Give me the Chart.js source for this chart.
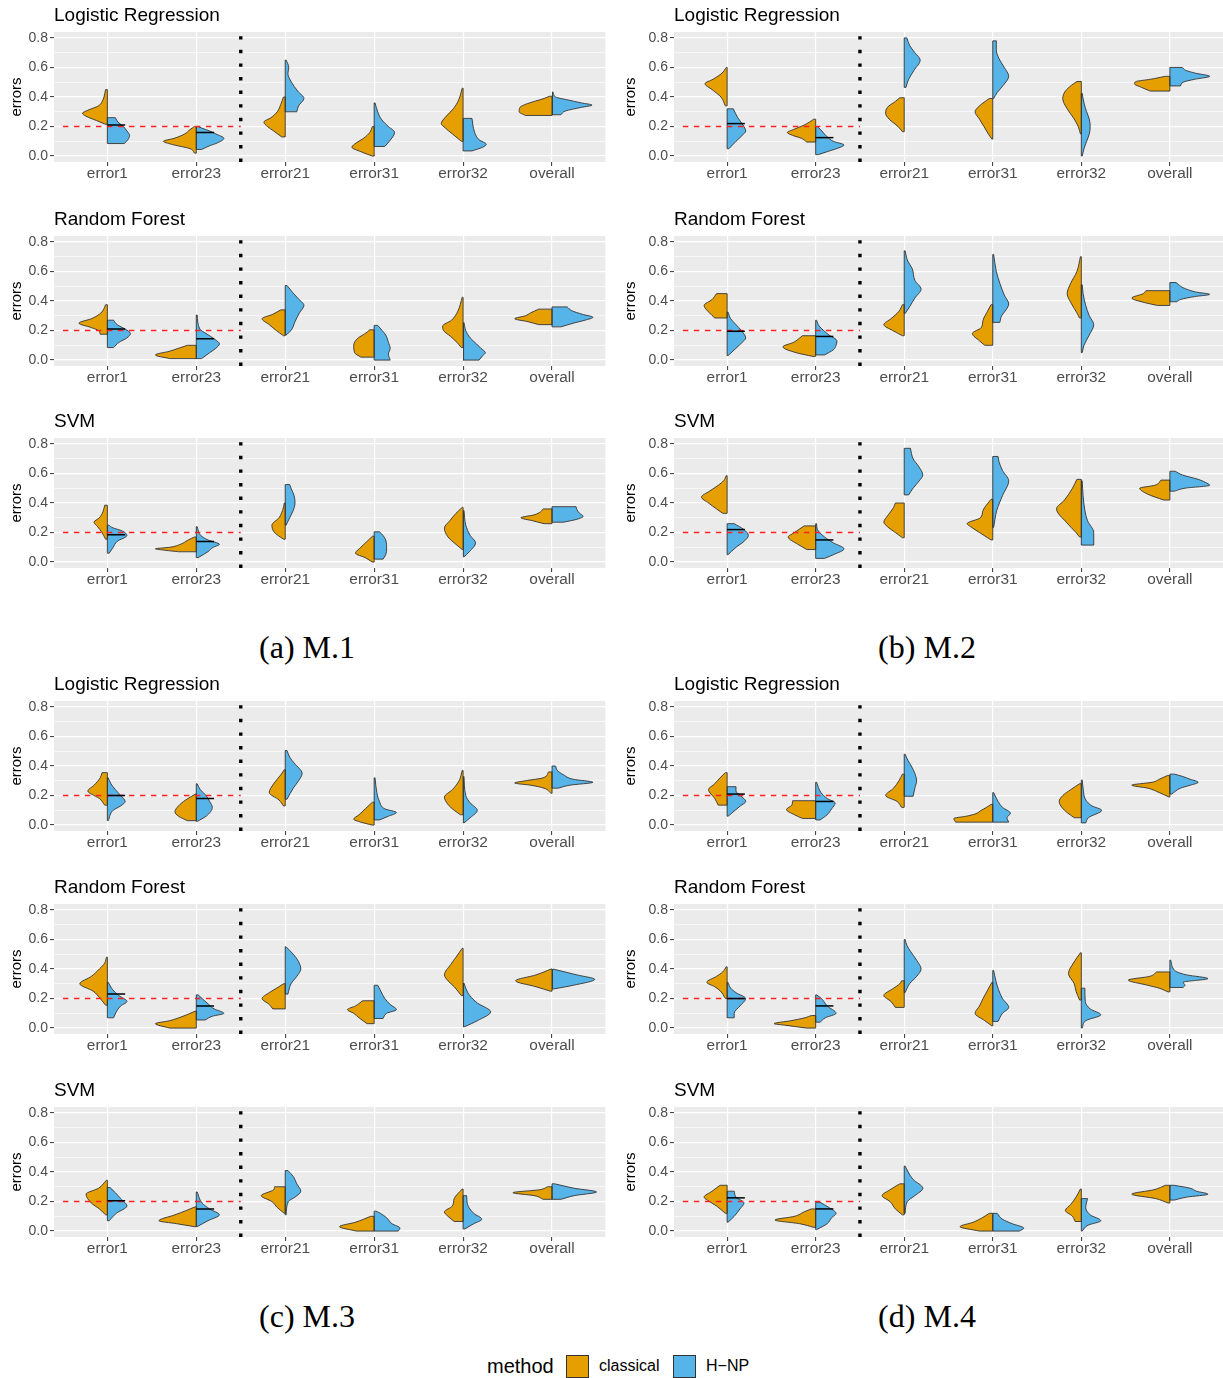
<!DOCTYPE html>
<html>
<head>
<meta charset="utf-8">
<title>Split violin plots of errors</title>
<script src="https://cdn.jsdelivr.net/npm/chart.js@4.4.1/dist/chart.umd.min.js"></script>
<style>
  html, body { margin: 0; padding: 0; background: #fff; }
  #page { position: relative; width: 1223px; height: 1378px; overflow: hidden; font-family: "Liberation Sans", Arial, sans-serif; }
  #page canvas { position: absolute; }
  .caption { position: absolute; font-family: "Liberation Serif", "DejaVu Serif", serif; font-size: 32px; color: #000; transform: translate(-50%, -50%); white-space: nowrap; }
  .legtxt { position: absolute; transform: translateY(-50%); white-space: nowrap; color: #000; }
  .legkey { position: absolute; width: 21px; height: 21px; border: 1px solid #333; }
</style>
</head>
<body>
<div id="page"></div>
<script>
// categorias y textos
const categories = ['error1', 'error23', 'error21', 'error31', 'error32', 'overall'];
const methods = ['classical', 'H\u2212NP'];
const methodColors = ['#E69F00', '#56B4E9'];
const models = ['Logistic Regression', 'Random Forest', 'SVM'];
const settings = ['M.1', 'M.2', 'M.3', 'M.4'];
const captionLetters = ['(a)', '(b)', '(c)', '(d)'];

// eje y
const yTicks = [0, 0.2, 0.4, 0.6, 0.8];
const yTickLabels = ['0.0', '0.2', '0.4', '0.6', '0.8'];
const yMinor = [0.1, 0.3, 0.5, 0.7];
const yLimits = [-0.04, 0.84];

// lineas de referencia
const targetLevel = 0.2;
const targetRange = [0.5, 2.5];
const dividerPos = 2.5;
const markLength = 0.2;

// cada violin: pares [error, semiancho] de abajo hacia arriba
// orden: error1, error23, error21, error31, error32, overall
const m1_lr_classical = [
  [[0.215,0.02],[0.24,0.12],[0.27,0.24],[0.29,0.28],[0.31,0.22],[0.34,0.1],[0.38,0.05],[0.42,0.03],[0.45,0.02]],
  [[0.02,0.02],[0.05,0.07],[0.08,0.28],[0.1,0.37],[0.12,0.25],[0.15,0.13],[0.18,0.07],[0.2,0.02]],
  [[0.13,0.04],[0.17,0.13],[0.2,0.2],[0.23,0.24],[0.26,0.16],[0.3,0.09],[0.35,0.05],[0.4,0.02]],
  [[0.0,0.02],[0.03,0.15],[0.06,0.25],[0.09,0.2],[0.12,0.12],[0.16,0.05],[0.2,0.02]],
  [[0.1,0.02],[0.15,0.12],[0.19,0.2],[0.22,0.245],[0.27,0.19],[0.32,0.11],[0.38,0.05],[0.46,0.01]],
  [[0.275,0.3],[0.3,0.37],[0.33,0.36],[0.35,0.3],[0.37,0.2],[0.39,0.09],[0.405,0.03]]
];
const m1_lr_hnp = [
  [[0.085,0.19],[0.11,0.23],[0.14,0.25],[0.17,0.22],[0.2,0.18],[0.23,0.12],[0.26,0.09]],
  [[0.045,0.06],[0.07,0.15],[0.09,0.24],[0.12,0.31],[0.15,0.22],[0.17,0.15],[0.19,0.06],[0.2,0.02]],
  [[0.3,0.13],[0.34,0.15],[0.39,0.21],[0.44,0.14],[0.5,0.07],[0.56,0.03],[0.6,0.04],[0.65,0.01]],
  [[0.065,0.12],[0.1,0.17],[0.16,0.23],[0.2,0.16],[0.25,0.08],[0.3,0.04],[0.36,0.01]],
  [[0.035,0.1],[0.06,0.22],[0.08,0.26],[0.11,0.18],[0.16,0.13],[0.21,0.11],[0.255,0.1]],
  [[0.28,0.1],[0.305,0.15],[0.33,0.33],[0.345,0.45],[0.36,0.33],[0.38,0.18],[0.4,0.04],[0.435,0.01]]
];
const m1_rf_classical = [
  [[0.175,0.08],[0.2,0.1],[0.22,0.18],[0.25,0.32],[0.28,0.18],[0.31,0.09],[0.34,0.045],[0.375,0.02]],
  [[0.01,0.3],[0.035,0.46],[0.06,0.3],[0.08,0.2],[0.1,0.1]],
  [[0.165,0.02],[0.2,0.1],[0.24,0.18],[0.28,0.26],[0.31,0.14],[0.34,0.05]],
  [[0.02,0.15],[0.05,0.22],[0.1,0.23],[0.15,0.18],[0.18,0.1],[0.205,0.05]],
  [[0.085,0.02],[0.12,0.07],[0.16,0.14],[0.2,0.22],[0.23,0.23],[0.27,0.13],[0.33,0.06],[0.425,0.01]],
  [[0.24,0.15],[0.26,0.27],[0.28,0.42],[0.3,0.3],[0.32,0.24],[0.345,0.15]]
];
const m1_rf_hnp = [
  [[0.085,0.07],[0.12,0.13],[0.15,0.22],[0.18,0.26],[0.21,0.2],[0.24,0.11],[0.27,0.07]],
  [[0.01,0.06],[0.05,0.15],[0.08,0.22],[0.11,0.26],[0.14,0.21],[0.18,0.11],[0.21,0.04],[0.305,0.01]],
  [[0.17,0.01],[0.2,0.065],[0.26,0.11],[0.32,0.16],[0.37,0.21],[0.42,0.14],[0.46,0.08],[0.505,0.02]],
  [[0.0,0.18],[0.04,0.16],[0.08,0.18],[0.12,0.16],[0.17,0.13],[0.2,0.09],[0.235,0.04]],
  [[0.0,0.18],[0.03,0.22],[0.05,0.25],[0.08,0.2],[0.11,0.15],[0.15,0.08],[0.2,0.03],[0.255,0.01]],
  [[0.225,0.1],[0.25,0.24],[0.27,0.37],[0.29,0.46],[0.31,0.34],[0.335,0.22],[0.36,0.17]]
];
const m1_svm_classical = [
  [[0.155,0.02],[0.2,0.06],[0.24,0.11],[0.27,0.15],[0.3,0.09],[0.34,0.05],[0.385,0.03]],
  [[0.07,0.2],[0.08,0.35],[0.09,0.46],[0.1,0.3],[0.12,0.18],[0.15,0.09],[0.17,0.02]],
  [[0.155,0.02],[0.2,0.12],[0.25,0.15],[0.3,0.07],[0.35,0.03],[0.4,0.01]],
  [[0.0,0.02],[0.03,0.1],[0.06,0.21],[0.1,0.15],[0.14,0.08],[0.175,0.02]],
  [[0.085,0.01],[0.12,0.08],[0.17,0.17],[0.23,0.21],[0.28,0.15],[0.33,0.08],[0.37,0.01]],
  [[0.26,0.09],[0.28,0.22],[0.3,0.35],[0.32,0.2],[0.34,0.13],[0.36,0.1]]
];
const m1_svm_hnp = [
  [[0.06,0.02],[0.1,0.065],[0.14,0.11],[0.18,0.22],[0.21,0.17],[0.235,0.05],[0.25,0.02]],
  [[0.03,0.02],[0.07,0.13],[0.1,0.19],[0.12,0.26],[0.15,0.13],[0.18,0.05],[0.24,0.01]],
  [[0.25,0.01],[0.3,0.05],[0.35,0.09],[0.4,0.11],[0.45,0.1],[0.5,0.065],[0.525,0.05]],
  [[0.02,0.1],[0.05,0.13],[0.09,0.14],[0.15,0.13],[0.18,0.1],[0.205,0.06]],
  [[0.035,0.01],[0.07,0.07],[0.13,0.14],[0.18,0.08],[0.25,0.03],[0.35,0.01]],
  [[0.27,0.13],[0.29,0.28],[0.31,0.35],[0.33,0.31],[0.355,0.28],[0.375,0.27]]
];

const m2_lr_classical = [
  [[0.34,0.02],[0.4,0.07],[0.45,0.17],[0.49,0.25],[0.52,0.16],[0.56,0.06],[0.6,0.01]],
  [[0.095,0.1],[0.12,0.16],[0.14,0.26],[0.16,0.32],[0.18,0.25],[0.21,0.13],[0.25,0.02]],
  [[0.165,0.02],[0.2,0.07],[0.25,0.17],[0.29,0.21],[0.33,0.19],[0.37,0.1],[0.395,0.05]],
  [[0.115,0.01],[0.15,0.05],[0.2,0.1],[0.25,0.15],[0.3,0.2],[0.34,0.15],[0.39,0.04]],
  [[0.15,0.01],[0.2,0.035],[0.26,0.09],[0.32,0.16],[0.39,0.21],[0.44,0.18],[0.48,0.11],[0.505,0.05]],
  [[0.44,0.22],[0.465,0.32],[0.49,0.4],[0.505,0.38],[0.52,0.22],[0.54,0.05]]
];
const m2_lr_hnp = [
  [[0.05,0.02],[0.1,0.1],[0.14,0.17],[0.17,0.21],[0.21,0.18],[0.26,0.12],[0.32,0.07]],
  [[0.01,0.03],[0.03,0.13],[0.06,0.28],[0.075,0.32],[0.1,0.2],[0.13,0.13],[0.17,0.07],[0.2,0.02]],
  [[0.465,0.02],[0.52,0.05],[0.58,0.11],[0.65,0.18],[0.7,0.12],[0.75,0.06],[0.8,0.03]],
  [[0.39,0.01],[0.43,0.05],[0.48,0.12],[0.54,0.18],[0.6,0.13],[0.66,0.07],[0.72,0.04],[0.78,0.04]],
  [[0.0,0.01],[0.05,0.03],[0.1,0.06],[0.15,0.09],[0.2,0.1],[0.25,0.09],[0.3,0.06],[0.36,0.03],[0.425,0.01]],
  [[0.475,0.12],[0.5,0.15],[0.52,0.28],[0.54,0.45],[0.56,0.3],[0.58,0.18],[0.6,0.14]]
];
const m2_rf_classical = [
  [[0.285,0.14],[0.32,0.2],[0.37,0.26],[0.41,0.17],[0.45,0.12]],
  [[0.025,0.03],[0.05,0.22],[0.09,0.37],[0.12,0.25],[0.15,0.18],[0.165,0.15]],
  [[0.165,0.02],[0.2,0.13],[0.24,0.23],[0.28,0.15],[0.33,0.06],[0.375,0.02]],
  [[0.1,0.09],[0.13,0.15],[0.18,0.23],[0.22,0.13],[0.27,0.11],[0.33,0.06],[0.375,0.02]],
  [[0.285,0.02],[0.32,0.05],[0.38,0.11],[0.45,0.16],[0.52,0.12],[0.6,0.05],[0.7,0.01]],
  [[0.37,0.14],[0.39,0.29],[0.42,0.43],[0.45,0.3],[0.47,0.27]]
];
const m2_rf_hnp = [
  [[0.03,0.01],[0.08,0.1],[0.12,0.17],[0.15,0.21],[0.2,0.16],[0.24,0.1],[0.28,0.04],[0.325,0.01]],
  [[0.035,0.1],[0.07,0.2],[0.1,0.23],[0.13,0.24],[0.17,0.15],[0.2,0.09],[0.23,0.04],[0.27,0.01]],
  [[0.315,0.01],[0.36,0.06],[0.42,0.12],[0.48,0.19],[0.54,0.12],[0.62,0.09],[0.67,0.04],[0.74,0.01]],
  [[0.255,0.08],[0.3,0.1],[0.34,0.15],[0.38,0.18],[0.44,0.13],[0.52,0.08],[0.6,0.04],[0.715,0.01]],
  [[0.05,0.01],[0.1,0.03],[0.17,0.09],[0.24,0.14],[0.3,0.09],[0.37,0.05],[0.45,0.02],[0.51,0.01]],
  [[0.395,0.08],[0.41,0.12],[0.43,0.28],[0.445,0.45],[0.46,0.3],[0.49,0.15],[0.51,0.1],[0.525,0.07]]
];
const m2_svm_classical = [
  [[0.33,0.05],[0.36,0.12],[0.4,0.21],[0.44,0.29],[0.48,0.2],[0.52,0.1],[0.55,0.04],[0.585,0.01]],
  [[0.085,0.1],[0.12,0.2],[0.17,0.31],[0.2,0.24],[0.245,0.13]],
  [[0.165,0.02],[0.2,0.1],[0.24,0.19],[0.27,0.23],[0.32,0.18],[0.37,0.12],[0.4,0.1]],
  [[0.15,0.02],[0.2,0.15],[0.24,0.25],[0.26,0.29],[0.3,0.14],[0.35,0.11],[0.425,0.02]],
  [[0.17,0.02],[0.2,0.06],[0.27,0.17],[0.36,0.28],[0.42,0.19],[0.5,0.1],[0.56,0.05]],
  [[0.42,0.07],[0.46,0.25],[0.5,0.34],[0.52,0.17],[0.555,0.1]]
];
const m2_svm_hnp = [
  [[0.05,0.01],[0.1,0.1],[0.14,0.19],[0.18,0.24],[0.22,0.19],[0.26,0.08]],
  [[0.025,0.1],[0.05,0.2],[0.09,0.32],[0.13,0.2],[0.17,0.1],[0.22,0.02],[0.26,0.01]],
  [[0.455,0.05],[0.5,0.1],[0.55,0.17],[0.59,0.21],[0.65,0.16],[0.7,0.1],[0.77,0.07]],
  [[0.235,0.01],[0.35,0.045],[0.45,0.11],[0.55,0.18],[0.62,0.11],[0.68,0.07],[0.715,0.06]],
  [[0.115,0.14],[0.15,0.14],[0.2,0.14],[0.28,0.07],[0.35,0.04],[0.45,0.02],[0.55,0.01]],
  [[0.48,0.05],[0.5,0.17],[0.52,0.45],[0.54,0.4],[0.56,0.32],[0.59,0.14],[0.615,0.06]]
];

const m3_lr_classical = [
  [[0.135,0.03],[0.18,0.09],[0.21,0.18],[0.23,0.22],[0.27,0.15],[0.32,0.08],[0.355,0.06]],
  [[0.03,0.1],[0.06,0.2],[0.09,0.24],[0.13,0.2],[0.17,0.12],[0.21,0.01]],
  [[0.13,0.02],[0.17,0.07],[0.22,0.18],[0.28,0.13],[0.34,0.05],[0.375,0.01]],
  [[0.0,0.02],[0.02,0.15],[0.04,0.23],[0.07,0.17],[0.11,0.1],[0.155,0.02]],
  [[0.07,0.03],[0.1,0.1],[0.14,0.17],[0.19,0.21],[0.24,0.12],[0.3,0.045],[0.37,0.01]],
  [[0.215,0.01],[0.25,0.09],[0.27,0.24],[0.285,0.42],[0.3,0.3],[0.32,0.1],[0.36,0.04]]
];
const m3_lr_hnp = [
  [[0.03,0.01],[0.1,0.065],[0.13,0.15],[0.16,0.2],[0.2,0.15],[0.24,0.09],[0.28,0.04],[0.32,0.01]],
  [[0.025,0.01],[0.06,0.11],[0.12,0.18],[0.16,0.15],[0.2,0.11],[0.24,0.045],[0.28,0.01]],
  [[0.175,0.02],[0.25,0.09],[0.3,0.15],[0.35,0.19],[0.42,0.1],[0.46,0.05],[0.505,0.02]],
  [[0.035,0.06],[0.06,0.16],[0.085,0.25],[0.11,0.12],[0.16,0.06],[0.22,0.03],[0.32,0.01]],
  [[0.015,0.01],[0.05,0.08],[0.1,0.16],[0.15,0.08],[0.2,0.03],[0.33,0.01]],
  [[0.25,0.07],[0.27,0.2],[0.29,0.46],[0.31,0.24],[0.34,0.13],[0.37,0.06],[0.4,0.04]]
];
const m3_rf_classical = [
  [[0.155,0.02],[0.2,0.08],[0.25,0.16],[0.3,0.31],[0.35,0.18],[0.4,0.09],[0.44,0.03],[0.48,0.01]],
  [[0.0,0.3],[0.03,0.46],[0.05,0.3],[0.08,0.15],[0.115,0.01]],
  [[0.13,0.14],[0.16,0.18],[0.2,0.26],[0.24,0.18],[0.28,0.07],[0.3,0.02]],
  [[0.03,0.08],[0.07,0.17],[0.1,0.23],[0.125,0.3],[0.15,0.21],[0.185,0.13]],
  [[0.22,0.02],[0.28,0.1],[0.32,0.17],[0.36,0.21],[0.43,0.14],[0.48,0.08],[0.54,0.01]],
  [[0.25,0.02],[0.28,0.18],[0.32,0.41],[0.36,0.18],[0.4,0.01]]
];
const m3_rf_hnp = [
  [[0.07,0.07],[0.12,0.11],[0.15,0.15],[0.18,0.22],[0.22,0.13],[0.26,0.06],[0.31,0.01]],
  [[0.055,0.1],[0.08,0.18],[0.1,0.31],[0.13,0.2],[0.16,0.14],[0.2,0.065],[0.225,0.02]],
  [[0.23,0.03],[0.3,0.065],[0.35,0.13],[0.4,0.175],[0.45,0.15],[0.5,0.09],[0.55,0.01]],
  [[0.065,0.1],[0.1,0.14],[0.125,0.25],[0.16,0.18],[0.2,0.12],[0.25,0.075],[0.29,0.04]],
  [[0.01,0.02],[0.05,0.16],[0.11,0.31],[0.17,0.16],[0.22,0.075],[0.27,0.03],[0.305,0.01]],
  [[0.265,0.02],[0.29,0.24],[0.33,0.48],[0.36,0.28],[0.4,0.01]]
];
const m3_svm_classical = [
  [[0.11,0.02],[0.15,0.09],[0.19,0.18],[0.25,0.24],[0.29,0.1],[0.345,0.01]],
  [[0.03,0.02],[0.05,0.22],[0.07,0.42],[0.11,0.24],[0.14,0.11],[0.165,0.01]],
  [[0.12,0.01],[0.16,0.09],[0.2,0.15],[0.24,0.27],[0.28,0.13],[0.3,0.12]],
  [[0.0,0.2],[0.03,0.39],[0.06,0.21],[0.08,0.12],[0.1,0.04]],
  [[0.065,0.1],[0.1,0.17],[0.13,0.21],[0.17,0.12],[0.22,0.1],[0.285,0.01]],
  [[0.215,0.1],[0.24,0.2],[0.26,0.44],[0.28,0.14],[0.3,0.05]]
];
const m3_svm_hnp = [
  [[0.07,0.02],[0.12,0.1],[0.17,0.22],[0.22,0.15],[0.26,0.09],[0.295,0.03]],
  [[0.03,0.01],[0.07,0.13],[0.11,0.26],[0.15,0.15],[0.19,0.065],[0.265,0.01]],
  [[0.11,0.01],[0.2,0.035],[0.23,0.11],[0.27,0.175],[0.32,0.13],[0.37,0.09],[0.41,0.03]],
  [[0.0,0.27],[0.02,0.29],[0.05,0.2],[0.09,0.14],[0.12,0.07],[0.135,0.02]],
  [[0.015,0.02],[0.05,0.12],[0.08,0.21],[0.12,0.12],[0.18,0.05],[0.24,0.04]],
  [[0.215,0.1],[0.24,0.25],[0.265,0.5],[0.29,0.25],[0.32,0.03]]
];

const m4_lr_classical = [
  [[0.135,0.1],[0.18,0.14],[0.24,0.21],[0.28,0.14],[0.32,0.08],[0.355,0.02]],
  [[0.045,0.15],[0.07,0.24],[0.105,0.33],[0.135,0.27],[0.165,0.26]],
  [[0.12,0.03],[0.16,0.08],[0.2,0.21],[0.25,0.12],[0.3,0.06],[0.345,0.02]],
  [[0.02,0.42],[0.045,0.44],[0.06,0.3],[0.075,0.2],[0.1,0.13],[0.12,0.07],[0.14,0.02]],
  [[0.05,0.08],[0.1,0.19],[0.16,0.25],[0.2,0.21],[0.24,0.12],[0.28,0.02]],
  [[0.19,0.01],[0.22,0.12],[0.25,0.25],[0.27,0.43],[0.29,0.2],[0.31,0.12],[0.335,0.03]]
];
const m4_lr_hnp = [
  [[0.06,0.01],[0.1,0.09],[0.13,0.15],[0.16,0.21],[0.2,0.15],[0.23,0.1],[0.26,0.1]],
  [[0.035,0.05],[0.07,0.13],[0.11,0.18],[0.15,0.22],[0.18,0.13],[0.22,0.06],[0.29,0.01]],
  [[0.195,0.1],[0.25,0.12],[0.3,0.14],[0.35,0.12],[0.4,0.08],[0.44,0.04],[0.48,0.01]],
  [[0.02,0.18],[0.05,0.16],[0.08,0.2],[0.12,0.11],[0.16,0.06],[0.22,0.01]],
  [[0.015,0.05],[0.05,0.08],[0.1,0.23],[0.13,0.12],[0.17,0.05],[0.25,0.02],[0.305,0.01]],
  [[0.21,0.02],[0.25,0.12],[0.27,0.23],[0.29,0.32],[0.31,0.23],[0.33,0.14],[0.345,0.05]]
];
const m4_rf_classical = [
  [[0.2,0.02],[0.25,0.075],[0.28,0.14],[0.31,0.23],[0.35,0.12],[0.38,0.05],[0.415,0.01]],
  [[0.0,0.1],[0.02,0.35],[0.03,0.47],[0.05,0.28],[0.07,0.12],[0.085,0.05]],
  [[0.14,0.1],[0.18,0.15],[0.22,0.23],[0.27,0.12],[0.3,0.05],[0.32,0.03]],
  [[0.015,0.01],[0.05,0.09],[0.1,0.2],[0.15,0.15],[0.2,0.11],[0.25,0.065],[0.31,0.01]],
  [[0.19,0.02],[0.25,0.06],[0.3,0.08],[0.37,0.145],[0.44,0.09],[0.51,0.01]],
  [[0.245,0.02],[0.27,0.12],[0.29,0.25],[0.325,0.47],[0.35,0.23],[0.38,0.15]]
];
const m4_rf_hnp = [
  [[0.07,0.08],[0.1,0.08],[0.15,0.145],[0.2,0.21],[0.24,0.1],[0.27,0.04],[0.31,0.01]],
  [[0.04,0.05],[0.07,0.11],[0.1,0.23],[0.15,0.13],[0.2,0.065],[0.225,0.01]],
  [[0.24,0.01],[0.3,0.06],[0.35,0.14],[0.4,0.19],[0.46,0.14],[0.52,0.07],[0.56,0.03],[0.6,0.01]],
  [[0.045,0.06],[0.1,0.11],[0.14,0.18],[0.2,0.11],[0.26,0.065],[0.32,0.035],[0.39,0.01]],
  [[0.0,0.01],[0.05,0.05],[0.09,0.22],[0.13,0.1],[0.18,0.045],[0.27,0.04]],
  [[0.275,0.15],[0.29,0.17],[0.31,0.15],[0.335,0.43],[0.36,0.19],[0.38,0.08],[0.4,0.04],[0.46,0.01]]
];
const m4_svm_classical = [
  [[0.12,0.02],[0.17,0.12],[0.2,0.2],[0.23,0.26],[0.27,0.17],[0.31,0.08]],
  [[0.025,0.02],[0.05,0.18],[0.075,0.46],[0.1,0.24],[0.13,0.13],[0.15,0.05]],
  [[0.11,0.02],[0.15,0.1],[0.2,0.16],[0.24,0.25],[0.28,0.16],[0.32,0.05]],
  [[0.0,0.15],[0.03,0.37],[0.06,0.22],[0.09,0.12],[0.12,0.04]],
  [[0.065,0.07],[0.1,0.1],[0.14,0.18],[0.18,0.12],[0.23,0.06],[0.285,0.01]],
  [[0.19,0.02],[0.22,0.16],[0.25,0.43],[0.28,0.18],[0.31,0.05]]
];
const m4_svm_hnp = [
  [[0.06,0.01],[0.1,0.08],[0.15,0.145],[0.19,0.19],[0.23,0.1],[0.27,0.08]],
  [[0.01,0.01],[0.05,0.13],[0.09,0.18],[0.12,0.23],[0.16,0.15],[0.195,0.05]],
  [[0.12,0.01],[0.2,0.035],[0.24,0.12],[0.29,0.21],[0.35,0.1],[0.4,0.045],[0.44,0.01]],
  [[0.0,0.3],[0.02,0.35],[0.05,0.22],[0.08,0.11],[0.12,0.05]],
  [[0.0,0.01],[0.04,0.075],[0.07,0.22],[0.11,0.1],[0.16,0.05],[0.22,0.07]],
  [[0.21,0.05],[0.23,0.19],[0.25,0.43],[0.27,0.3],[0.29,0.23],[0.31,0.05]]
];

// marcas negras sobre H-NP (error1, error23) por modelo: LR, RF, SVM
const m1_marks = [[0.21, 0.16], [0.21, 0.145], [0.185, 0.14]];
const m2_marks = [[0.22, 0.125], [0.195, 0.16], [0.22, 0.15]];
const m3_marks = [[0.2, 0.18], [0.23, 0.15], [0.205, 0.15]];
const m4_marks = [[0.21, 0.16], [0.2, 0.15], [0.225, 0.15]];

const series = {
  'M.1': [[m1_lr_classical, m1_lr_hnp], [m1_rf_classical, m1_rf_hnp], [m1_svm_classical, m1_svm_hnp]],
  'M.2': [[m2_lr_classical, m2_lr_hnp], [m2_rf_classical, m2_rf_hnp], [m2_svm_classical, m2_svm_hnp]],
  'M.3': [[m3_lr_classical, m3_lr_hnp], [m3_rf_classical, m3_rf_hnp], [m3_svm_classical, m3_svm_hnp]],
  'M.4': [[m4_lr_classical, m4_lr_hnp], [m4_rf_classical, m4_rf_hnp], [m4_svm_classical, m4_svm_hnp]]
};
const marks = { 'M.1': m1_marks, 'M.2': m2_marks, 'M.3': m3_marks, 'M.4': m4_marks };

// maquetacion
const OUTLINE = '#333333';
const COLS = [
  { left: 0, width: 612, padLeft: 8, axisW: 46, padRight: 6.6, capX: 307 },
  { left: 612, width: 611, padLeft: 10, axisW: 52, padRight: 0, capX: 927 }
];
const PLOT_TOPS = [32, 236, 438, 701, 904, 1107];
const CAPTION_Y = [647, 1316];
const TOP_SPACE = 32, PLOT_H = 130, BOTTOM_SPACE = 30;

Chart.defaults.font.family = '"Liberation Sans", Arial, Helvetica, sans-serif';

const isMajor = v => yTicks.includes(Math.round(v * 10) / 10);

// fondo gris del panel y titulo alineado con el panel
const panelDecor = {
  id: 'panelDecor',
  beforeDraw(chart) {
    const { ctx, chartArea: a } = chart;
    ctx.save();
    ctx.fillStyle = '#EBEBEB';
    ctx.fillRect(a.left, a.top, a.right - a.left, a.bottom - a.top);
    ctx.restore();
  },
  afterDraw(chart, args, opts) {
    const { ctx, chartArea: a } = chart;
    ctx.save();
    ctx.font = '19px "Liberation Sans", Arial, sans-serif';
    ctx.fillStyle = '#000';
    ctx.textBaseline = 'middle';
    ctx.fillText(opts.text, a.left, a.top - 16);
    ctx.restore();
  }
};

function lineDs(data, extra) {
  return Object.assign({ data, fill: false, tension: 0, pointRadius: 0, pointHitRadius: 0, borderCapStyle: 'butt' }, extra);
}

// media violin: contorno suave rellenado hasta el eje central
function profileDs(pts, c, side, color) {
  return lineDs(pts.map(([y, w]) => ({ x: c + side * w, y })), {
    fill: { value: c }, backgroundColor: color, borderColor: OUTLINE, borderWidth: 0.9,
    cubicInterpolationMode: 'monotone', order: 4
  });
}
// tapas y linea central del violin
function frameDs(pts, c, side) {
  const first = pts[0], last = pts[pts.length - 1];
  return lineDs([
    { x: c + side * first[1], y: first[0] }, { x: c, y: first[0] },
    { x: c, y: last[0] }, { x: c + side * last[1], y: last[0] }
  ], { borderColor: OUTLINE, borderWidth: 0.9, order: 3 });
}

function makePanel(page, g, m) {
  const col = COLS[g % 2];
  const top = PLOT_TOPS[(g >= 2 ? 3 : 0) + m] - TOP_SPACE;
  const canvas = document.createElement('canvas');
  canvas.width = col.width;
  canvas.height = TOP_SPACE + PLOT_H + BOTTOM_SPACE;
  canvas.style.left = col.left + 'px';
  canvas.style.top = top + 'px';
  page.appendChild(canvas);

  const [cls, hnp] = series[settings[g]][m];
  const mk = marks[settings[g]][m];
  const datasets = [];
  datasets.push(lineDs([{ x: dividerPos, y: yLimits[0] }, { x: dividerPos, y: yLimits[1] }],
    { borderColor: '#000', borderWidth: 3.4, borderDash: [3.4, 10.2], order: 0 }));
  mk.forEach((v, i) => datasets.push(lineDs([{ x: i + 1, y: v }, { x: i + 1 + markLength, y: v }],
    { borderColor: '#000', borderWidth: 1.5, order: 1 })));
  datasets.push(lineDs(targetRange.map(x => ({ x, y: targetLevel })),
    { borderColor: '#FF2020', borderWidth: 1.4, borderDash: [5.5, 5.5], order: 2 }));
  [cls, hnp].forEach((group, k) => {
    const side = k === 0 ? -1 : 1;
    group.forEach((pts, i) => {
      datasets.push(profileDs(pts, i + 1, side, methodColors[k]));
      datasets.push(frameDs(pts, i + 1, side));
    });
  });

  new Chart(canvas, {
    type: 'line',
    data: { datasets },
    plugins: [panelDecor],
    options: {
      responsive: false,
      animation: false,
      events: [],
      indexAxis: 'y',
      layout: { autoPadding: false, padding: { top: TOP_SPACE, bottom: 0, left: col.padLeft, right: col.padRight } },
      plugins: {
        legend: { display: false },
        tooltip: { enabled: false },
        panelDecor: { text: models[m] }
      },
      scales: {
        x: {
          type: 'linear', position: 'bottom', bounds: 'data',
          min: 0.4, max: 6.6,
          afterBuildTicks: ax => { ax.ticks = categories.map((c, i) => ({ value: i + 1 })); },
          afterFit: s => { s.height = BOTTOM_SPACE; },
          border: { display: false },
          grid: { color: '#FFFFFF', lineWidth: 1.2, tickLength: 4, tickColor: '#333333', tickWidth: 1 },
          ticks: {
            autoSkip: false, maxRotation: 0, minRotation: 0, padding: -1,
            color: '#4D4D4D', font: { size: 15.4 },
            callback: v => categories[Math.round(v) - 1]
          }
        },
        y: {
          type: 'linear', position: 'left', bounds: 'data',
          min: yLimits[0], max: yLimits[1],
          afterBuildTicks: ax => { ax.ticks = yTicks.concat(yMinor).sort((a, b) => a - b).map(v => ({ value: v })); },
          afterFit: s => { s.width = col.axisW; },
          border: { display: false },
          title: { display: true, text: 'errors', color: '#000', font: { size: 15 }, padding: 0 },
          grid: {
            color: '#FFFFFF',
            lineWidth: ctx => (ctx.tick && isMajor(ctx.tick.value)) ? 1.2 : 0.6,
            tickLength: 4,
            tickWidth: 1,
            tickColor: ctx => (ctx.tick && isMajor(ctx.tick.value)) ? '#333333' : 'rgba(0,0,0,0)'
          },
          ticks: {
            autoSkip: false, padding: 2, color: '#4D4D4D', font: { size: 14 },
            callback: v => {
              const k = yTicks.indexOf(Math.round(v * 10) / 10);
              return k < 0 ? '' : yTickLabels[k];
            }
          }
        }
      }
    }
  });
}

const page = document.getElementById('page');
for (let g = 0; g < settings.length; g++) {
  for (let m = 0; m < models.length; m++) makePanel(page, g, m);
  const cap = document.createElement('div');
  cap.className = 'caption';
  cap.textContent = captionLetters[g] + ' ' + settings[g];
  cap.style.left = COLS[g % 2].capX + 'px';
  cap.style.top = CAPTION_Y[g >= 2 ? 1 : 0] + 'px';
  page.appendChild(cap);
}

// leyenda
const LEG_Y = 1366;
function legText(txt, x, size) {
  const d = document.createElement('div');
  d.className = 'legtxt';
  d.textContent = txt;
  d.style.left = x + 'px';
  d.style.top = LEG_Y + 'px';
  d.style.fontSize = size + 'px';
  page.appendChild(d);
}
legText('method', 487, 20);
const keyX = [566, 673], labelX = [599, 706];
methods.forEach((name, k) => {
  const key = document.createElement('div');
  key.className = 'legkey';
  key.style.left = keyX[k] + 'px';
  key.style.top = (LEG_Y - 11) + 'px';
  key.style.background = methodColors[k];
  page.appendChild(key);
  legText(name, labelX[k], 16);
});
</script>
</body>
</html>
